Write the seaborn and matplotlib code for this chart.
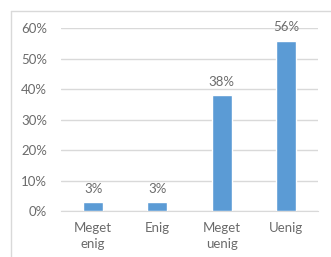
import seaborn as sns
import matplotlib.pyplot as plt
import pandas as pd

categories = ["Meget\nenig", "Enig", "Meget\nuenig", "Uenig"]
values = [0.03, 0.03, 0.38, 0.56]
labels = ["3%", "3%", "38%", "56%"]
yticks = [0, 0.1, 0.2, 0.3, 0.4, 0.5, 0.6]

df = pd.DataFrame({"category": categories, "value": values})

sns.set_style("white")
plt.rcParams["font.family"] = ["Lato", "DejaVu Sans"]

fig = plt.figure(figsize=(3.31, 2.57), dpi=100)
ax = fig.add_axes([61 / 331, 1 - 211 / 257, 257 / 331, 182.5 / 257])

# chart frame (only left and top edges are visible in the crop)
x0, y0 = 10.5 / 331, 1 - 10.5 / 257
fig.add_artist(plt.Line2D([x0, x0], [0, y0], transform=fig.transFigure,
                          color="#D9D9D9", linewidth=1))
fig.add_artist(plt.Line2D([x0, 1], [y0, y0], transform=fig.transFigure,
                          color="#D9D9D9", linewidth=1))

sns.barplot(data=df, x="category", y="value", color="#5B9BD5", width=0.31,
            saturation=1, ax=ax, zorder=3)

for i, (v, t) in enumerate(zip(values, labels)):
    ax.text(i, v + 0.024, t, ha="center", va="bottom", fontsize=9.5, color="#6b6b6b")

ax.set_ylim(0, 0.6)
ax.set_xlim(-0.5, 3.5)
ax.set_yticks(yticks)
ax.set_yticklabels([f"{int(round(t * 100))}%" for t in yticks])
ax.yaxis.grid(True, color="#D9D9D9", linewidth=1, zorder=0)
ax.tick_params(axis="y", length=0, pad=10, labelsize=9.5, labelcolor="#6b6b6b")
ax.tick_params(axis="x", length=0, pad=8, labelsize=9.5, labelcolor="#6b6b6b")
for lab in ax.get_xticklabels():
    lab.set_linespacing(1.4)
for s in ["top", "right", "left"]:
    ax.spines[s].set_visible(False)
ax.spines["bottom"].set_color("#D9D9D9")
ax.set_xlabel("")
ax.set_ylabel("")

fig.savefig("out.png", dpi=100)
